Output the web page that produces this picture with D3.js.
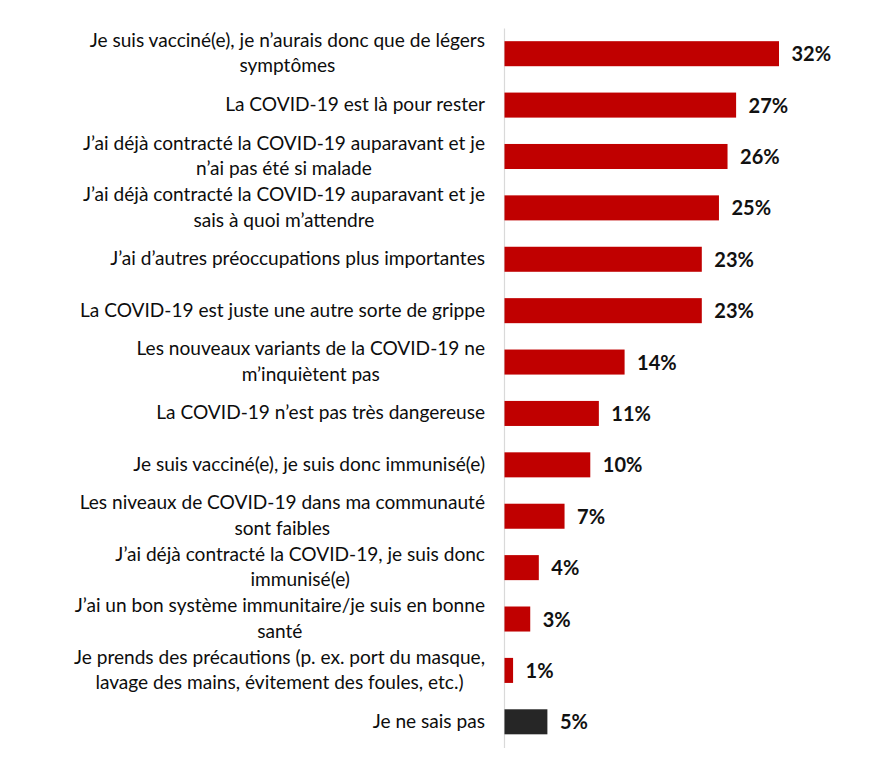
<!DOCTYPE html>
<html>
<head>
<meta charset="utf-8">
<script src="https://cdn.jsdelivr.net/npm/d3@7"></script>
<style>
  html, body { margin: 0; padding: 0; background: #ffffff; }
  svg { display: block; }
</style>
</head>
<body>
<svg id="chart" width="880" height="768"></svg>
<script>
// ---- data ----
const categories = [
  "Je suis vacciné(e), je n’aurais donc que de légers|symptômes",
  "La COVID-19 est là pour rester",
  "J’ai déjà contracté la COVID-19 auparavant et je|n’ai pas été si malade",
  "J’ai déjà contracté la COVID-19 auparavant et je|sais à quoi m’attendre",
  "J’ai d’autres préoccupations plus importantes",
  "La COVID-19 est juste une autre sorte de grippe",
  "Les nouveaux variants de la COVID-19 ne|m’inquiètent pas",
  "La COVID-19 n’est pas très dangereuse",
  "Je suis vacciné(e), je suis donc immunisé(e)",
  "Les niveaux de COVID-19 dans ma communauté|sont faibles",
  "J’ai déjà contracté la COVID-19, je suis donc|immunisé(e)",
  "J’ai un bon système immunitaire/je suis en bonne|santé",
  "Je prends des précautions (p. ex. port du masque,|lavage des mains, évitement des foules, etc.)",
  "Je ne sais pas"
];
const values = [32, 27, 26, 25, 23, 23, 14, 11, 10, 7, 4, 3, 1, 5];
const groups = ["reason","reason","reason","reason","reason","reason","reason",
                "reason","reason","reason","reason","reason","reason","unknown"];

// ---- layout ----
const svg = d3.select("#chart");
const colorScale = d3.scaleOrdinal().domain(["reason","unknown"]).range(["#c00000","#262626"]);
const x = d3.scaleLinear().domain([0, 32]).range([504.5, 779]);
const y = d3.scaleBand().domain(categories).range([28, 747.5])
  .paddingInner(0.513).paddingOuter(0.2565);

const labelFont = "Lato, 'Open Sans', sans-serif";

// axis line (domain only)
const axisG = svg.append("g")
  .attr("transform", `translate(${504},0)`)
  .call(d3.axisLeft(y).tickSize(0).tickSizeOuter(0).tickFormat(""));
axisG.select(".domain").attr("stroke", "#d9d9d9").attr("stroke-width", 1.2);
axisG.selectAll(".tick").remove();

// bars
svg.append("g").selectAll("rect")
  .data(categories)
  .join("rect")
  .attr("x", x(0))
  .attr("y", d => y(d))
  .attr("width", (d, i) => x(values[i]) - x(0))
  .attr("height", y.bandwidth())
  .attr("fill", (d, i) => colorScale(groups[i]));

// value labels
const fmt = d => d3.format("d")(d) + "%";
svg.append("g").selectAll("text")
  .data(categories)
  .join("text")
  .attr("x", (d, i) => x(values[i]) + 12.5)
  .attr("y", d => y(d) + y.bandwidth() / 2 + 7.5)
  .attr("font-family", labelFont)
  .attr("font-weight", "bold")
  .attr("font-size", "20px")
  .attr("fill", "#111")
  .text((d, i) => fmt(values[i]));

// category labels: block right-aligned at 485, lines centered within the block
const labelRight = 485;
const lineGap = 25.5;
const labG = svg.append("g");
categories.forEach(cat => {
  const lines = cat.split("|");
  const cy = y(cat) + y.bandwidth() / 2;
  const t = labG.append("text")
    .attr("font-family", labelFont)
    .attr("font-size", "19.1px")
    .attr("fill", "#0d0d0d")
    .attr("text-anchor", "middle");
  const tsp = lines.map((ln, k) => t.append("tspan")
    .attr("y", cy + 6 - (lines.length - 1) * lineGap / 2 + k * lineGap)
    .text(ln));
  const maxW = d3.max(tsp, s => s.node().getComputedTextLength());
  tsp.forEach(s => s.attr("x", labelRight - maxW / 2));
});
</script>
</body>
</html>
